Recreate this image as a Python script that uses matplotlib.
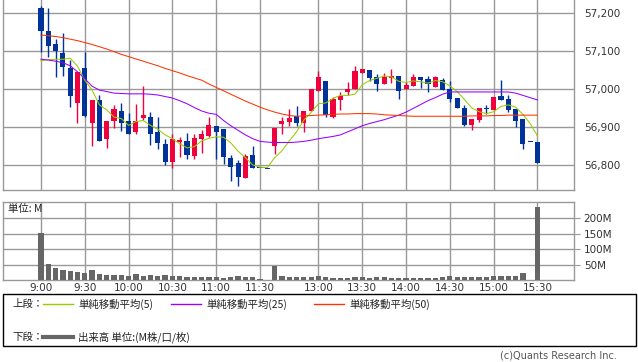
import matplotlib
matplotlib.use("Agg")
import matplotlib.pyplot as plt
from matplotlib.lines import Line2D
from matplotlib.patches import Rectangle
import numpy as np

plt.rcParams['font.family'] = ['DejaVu Sans', 'Noto Sans CJK JP']

# 5-minute candles, index 0 = 9:00
opens = [57213, 57153, 57119, 57096, 57055, 56965, 57056, 56912, 56972, 56868,
         56917, 56943, 56917, 56888, 56924, 56927, 56888, 56856, 56810, 56862,
         56864, 56825, 56870, 56878, 56903, 56896, 56820, 56806, 56767, 56827,
         56792, 56790, 56852, 56910, 56914, 56930, 56912, 56942, 56995, 57022,
         56928, 56972, 56992, 57000, 57044, 57051, 57033, 57014, 57029, 57036,
         57001, 57009, 57033, 57027, 57007, 57024, 57000, 56978, 56950, 56906,
         56919, 56948, 56946, 56982, 56974, 56948, 56922, 56861, 56861]
highs = [57219, 57214, 57132, 57148, 57077, 57046, 57099, 56972, 56985, 56917,
         56959, 56964, 56938, 56961, 57009, 56940, 56928, 56868, 56882, 56874,
         56885, 56882, 56893, 56927, 56903, 56896, 56827, 56814, 56829, 56851,
         56792, 56790, 56899, 56926, 56948, 56956, 56944, 57000, 57048, 57022,
         56979, 56994, 57020, 57062, 57053, 57051, 57040, 57042, 57053, 57036,
         57018, 57040, 57033, 57035, 57036, 57029, 57022, 56978, 56959, 56922,
         56951, 56958, 56980, 57024, 56985, 56948, 56922, 56861, 56861]
lows = [57098, 57086, 57033, 57035, 56954, 56912, 56927, 56852, 56865, 56846,
        56899, 56890, 56882, 56882, 56919, 56854, 56844, 56801, 56792, 56821,
        56816, 56817, 56833, 56875, 56817, 56803, 56760, 56746, 56767, 56792,
        56792, 56790, 56830, 56882, 56904, 56904, 56888, 56942, 56995, 56928,
        56924, 56946, 56985, 57000, 57044, 57023, 56996, 57014, 57016, 56974,
        57001, 57009, 57004, 56992, 57007, 56998, 56967, 56952, 56903, 56893,
        56913, 56935, 56946, 56972, 56941, 56900, 56843, 56861, 56805]
closes = [57154, 57115, 57101, 57059, 56983, 57046, 56931, 56972, 56865, 56917,
          56948, 56912, 56883, 56917, 56932, 56883, 56859, 56810, 56868, 56867,
          56828, 56873, 56882, 56906, 56888, 56823, 56796, 56770, 56825, 56792,
          56792, 56790, 56899, 56917, 56924, 56912, 56944, 57000, 57032, 56932,
          56974, 56983, 57000, 57048, 57053, 57029, 57013, 57033, 57036, 56996,
          57011, 57033, 57025, 57013, 57033, 56998, 56975, 56952, 56906, 56922,
          56951, 56948, 56980, 56972, 56946, 56917, 56855, 56861, 56805]

# moving averages
ma5 = [57075, 57078, 57079, 57079, 57082, 57061, 57024, 56998, 56959, 56946,
       56927, 56923, 56905, 56915, 56918, 56905, 56895, 56880, 56870, 56857,
       56846, 56849, 56864, 56871, 56875, 56874, 56859, 56837, 56820, 56801,
       56795, 56794, 56820, 56838, 56864, 56888, 56919, 56939, 56962, 56964,
       56976, 56984, 56984, 56987, 57012, 57023, 57029, 57035, 57033, 57021,
       57018, 57022, 57020, 57016, 57023, 57020, 57009, 56994, 56973, 56951,
       56941, 56936, 56941, 56955, 56959, 56953, 56934, 56910, 56877]
ma25 = [57079, 57077, 57074, 57070, 57062, 57046, 57028, 57008, 56998, 56994,
        56990, 56989, 56988, 56988, 56988, 56987, 56985, 56981, 56977, 56970,
        56962, 56952, 56943, 56937, 56934, 56918, 56904, 56892, 56880, 56870,
        56863, 56861, 56860, 56860, 56860, 56861, 56863, 56866, 56870, 56873,
        56876, 56880, 56888, 56896, 56904, 56910, 56915, 56920, 56926, 56932,
        56940, 56950, 56960, 56970, 56978, 56987, 56993, 56993, 56993, 56993,
        56993, 56993, 56993, 56993, 56993, 56990, 56984, 56978, 56972]
ma50 = [57143, 57141, 57139, 57136, 57132, 57128, 57123, 57118, 57112, 57106,
        57099, 57092, 57086, 57080, 57074, 57068, 57062, 57055, 57049, 57043,
        57036, 57030, 57024, 57014, 57005, 56996, 56987, 56978, 56969, 56961,
        56953, 56946, 56940, 56935, 56931, 56929, 56930, 56931, 56932, 56933,
        56934, 56935, 56935, 56936, 56936, 56936, 56935, 56933, 56932, 56931,
        56930, 56929, 56929, 56929, 56929, 56929, 56929, 56929, 56929, 56930,
        56930, 56930, 56931, 56931, 56932, 56932, 56932, 56932, 56932]

# volume in millions
volume = [154, 52, 40, 33, 29, 26, 22, 33, 18, 16,
          16, 16, 14, 20, 14, 16, 14, 15, 14, 12,
          11, 11, 11, 11, 11, 8, 10, 13, 11, 11,
          2, 0, 47, 14, 11, 11, 11, 11, 13, 9,
          7, 7, 7, 9, 10, 7, 10, 10, 7, 7,
          7, 7, 7, 7, 7, 10, 13, 9, 10, 10,
          10, 10, 13, 13, 13, 13, 23, 1, 237]

tick_pos = [0, 6, 12, 18, 24, 30, 38, 44, 50, 56, 62, 68]
tick_labels = ['9:00', '9:30', '10:00', '10:30', '11:00', '11:30',
               '13:00', '13:30', '14:00', '14:30', '15:00', '15:30']
price_ticks = [56800, 56900, 57000, 57100, 57200]
vol_ticks = [50, 100, 150, 200]

RED = '#f0003c'
BLUE = '#003399'
GRID = '#999999'
W, H = 638, 362

fig = plt.figure(figsize=(W / 100, H / 100), dpi=100)
ax = fig.add_axes([3 / W, (H - 190) / H, 571 / W, 190 / H])
axv = fig.add_axes([3 / W, (H - 280) / H, 571 / W, 78 / H])

x = np.arange(len(closes))
o = np.array(opens)
c = np.array(closes)
up = c > o
colors = [RED if u else BLUE for u in up]

# wicks then bodies
ax.vlines(x, lows, highs, colors=colors, linewidth=1, zorder=3)
body_bottom = np.minimum(o, c)
body_h = np.maximum(np.abs(c - o), 2.6)
ax.bar(x, body_h, bottom=body_bottom, width=0.7, color=colors, linewidth=0, zorder=4)

ax.plot(x, ma5, color='#99cc00', linewidth=0.75, zorder=5)
ax.plot(x, ma25, color='#9900ff', linewidth=0.75, zorder=5)
ax.plot(x, ma50, color='#ff3300', linewidth=0.75, zorder=5)

axv.bar(x, volume, width=0.72, color='#666666', linewidth=0, zorder=3)

for a in (ax, axv):
    a.set_xlim(-5.2, 73.0)
    a.set_xticks(tick_pos)
    a.grid(True, color=GRID, linewidth=1)
    a.set_axisbelow(True)
    a.yaxis.tick_right()
    for s in a.spines.values():
        s.set_color(GRID)
        s.set_linewidth(1)
ax.spines['top'].set_visible(False)

ax.set_ylim(56735, 57235)
ax.set_yticks(price_ticks)
ax.set_yticklabels([f'{p:,}' for p in price_ticks])
ax.tick_params(axis='y', length=0, pad=7, labelsize=7.5, labelcolor='#333333')
ax.tick_params(axis='x', length=0, labelbottom=False)

axv.set_ylim(0, 253)
axv.set_yticks(vol_ticks)
axv.set_yticklabels([f'{v}M' for v in vol_ticks])
axv.tick_params(axis='y', length=4, color=GRID, pad=3, labelsize=7.5, labelcolor='#333333')
axv.set_xticklabels(tick_labels)
axv.tick_params(axis='x', length=0, pad=2, labelsize=7.5, labelcolor='#333333')
axv.text(5 / 571, 1 - 7 / 78, '単位: M', transform=axv.transAxes, fontsize=7.5,
         va='center', ha='left', color='#222222',
         family=['Noto Sans CJK JP', 'DejaVu Sans'])

# legend box
def fx(px):
    return px / W

def fy(py):
    return (H - py) / H

jp = ['Noto Sans CJK JP', 'DejaVu Sans']
fig.add_artist(Rectangle((fx(3), fy(346)), fx(636) - fx(3), fy(294) - fy(346),
                         transform=fig.transFigure, fill=False, edgecolor='black', linewidth=1))
r1, r2 = fy(304), fy(337)
fig.text(fx(12), r1, '上段：', fontsize=7.5, va='center', family=jp, color='#222222')
fig.text(fx(12), r2, '下段：', fontsize=7.5, va='center', family=jp, color='#222222')
legend_items = [(43, '#99cc00', '単純移動平均(5)'),
                (171, '#9900ff', '単純移動平均(25)'),
                (314, '#ff3300', '単純移動平均(50)')]
for x0, col, lab in legend_items:
    fig.add_artist(Line2D([fx(x0), fx(x0 + 30)], [r1, r1], transform=fig.transFigure,
                          color=col, linewidth=1))
    fig.text(fx(x0 + 35), r1, lab, fontsize=7.5, va='center', family=jp, color='#222222')
fig.add_artist(Line2D([fx(43), fx(73)], [r2, r2], transform=fig.transFigure,
                      color='#666666', linewidth=3))
fig.text(fx(78), r2, '出来高 単位:(M株/口/枚)', fontsize=7.5, va='center', family=jp,
         color='#222222')

fig.text(fx(617), fy(356), '(c)Quants Research Inc.', fontsize=7, ha='right', va='center',
         color='#555555')

fig.savefig('out.png', dpi=100)
